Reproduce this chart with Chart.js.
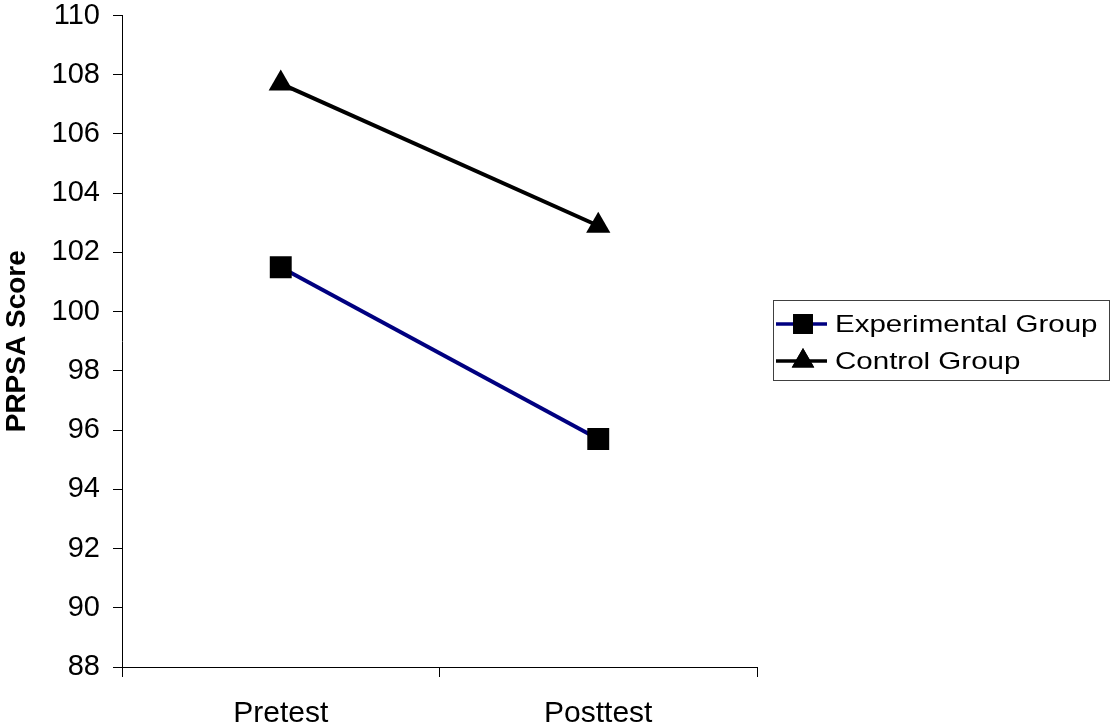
<!DOCTYPE html>
<html>
<head>
<meta charset="utf-8">
<script src="https://cdn.jsdelivr.net/npm/chart.js@4"></script>
<style>
  html, body { margin: 0; padding: 0; background: #fff; }
  #wrap { width: 1112px; height: 727px; }
</style>
</head>
<body>
<div id="wrap"><canvas id="chart" width="1112" height="727"></canvas></div>
<script>
const categories = ["Pretest", "Posttest"];
const experimentalScores = [101.5, 95.7];
const controlScores = [107.7, 102.9];
const yTicks = [88, 90, 92, 94, 96, 98, 100, 102, 104, 106, 108, 110];

const FONT = "'Liberation Sans', Arial, sans-serif";

// legend drawn in a box right of the plot, like the original
const boxLegend = {
  id: "boxLegend",
  afterDraw(chart) {
    const ctx = chart.ctx;
    const x0 = 773, y0 = 300, w = 336, h = 80;
    ctx.save();
    ctx.strokeStyle = "#404040";
    ctx.lineWidth = 1;
    ctx.strokeRect(x0 + 0.5, y0 + 0.5, w, h);
    chart.data.datasets.forEach((ds, i) => {
      const cy = y0 + 24 + i * 37;
      ctx.strokeStyle = ds.borderColor;
      ctx.lineWidth = 3.5;
      ctx.beginPath();
      ctx.moveTo(776, cy);
      ctx.lineTo(827, cy);
      ctx.stroke();
      Chart.helpers.drawPoint(ctx, {
        pointStyle: ds.pointStyle, radius: ds.pointStyle === "rect" ? 14 : 13, rotation: 0, borderWidth: 0
      }, 803, cy);
      ctx.fillStyle = "#000";
      ctx.fill();
      // the original's legend text is wide, so stretch it sideways
      ctx.save();
      ctx.translate(835, cy + 1);
      ctx.scale(1.23, 1);
      ctx.font = "24px " + FONT;
      ctx.textBaseline = "middle";
      ctx.fillText(ds.label, 0, 0);
      ctx.restore();
    });
    ctx.restore();
  }
};

new Chart(document.getElementById("chart"), {
  type: "line",
  data: {
    labels: categories,
    datasets: [
      {
        label: "Experimental Group",
        data: experimentalScores,
        borderColor: "#000080",
        borderWidth: 4,
        pointStyle: "rect",
        pointRadius: 15.5,
        pointBackgroundColor: "#000",
        pointBorderWidth: 0
      },
      {
        label: "Control Group",
        data: controlScores,
        borderColor: "#000",
        borderWidth: 4,
        pointStyle: "triangle",
        pointRadius: 14,
        pointBackgroundColor: "#000",
        pointBorderWidth: 0
      }
    ]
  },
  options: {
    responsive: false,
    animation: false,
    layout: { padding: { top: 15, right: 355, left: 0, bottom: 0 } },
    plugins: {
      legend: { display: false },
      tooltip: { enabled: false }
    },
    scales: {
      x: {
        offset: true,
        grid: { offset: true, drawOnChartArea: false, tickLength: 10, color: "#000" },
        border: { color: "#000", width: 1 },
        ticks: { color: "#000", font: { family: FONT, size: 30 }, padding: 19 },
        afterFit(s) { s.height = 60; s.paddingLeft = 0; s.paddingRight = 0; }
      },
      y: {
        min: 88,
        max: 110,
        afterBuildTicks(s) { s.ticks = yTicks.map(v => ({ value: v })); },
        grid: { drawOnChartArea: false, tickLength: 9, color: "#000" },
        border: { color: "#000", width: 1 },
        ticks: { color: "#000", font: { family: FONT, size: 29 }, padding: 13 },
        title: {
          display: true,
          text: "PRPSA Score",
          color: "#000",
          font: { family: FONT, size: 28, weight: "bold" },
          padding: { top: 0, bottom: 0 }
        },
        afterFit(s) { s.width = 122; s.paddingTop = 0; s.paddingBottom = 0; }
      }
    }
  },
  plugins: [boxLegend]
});
</script>
</body>
</html>
